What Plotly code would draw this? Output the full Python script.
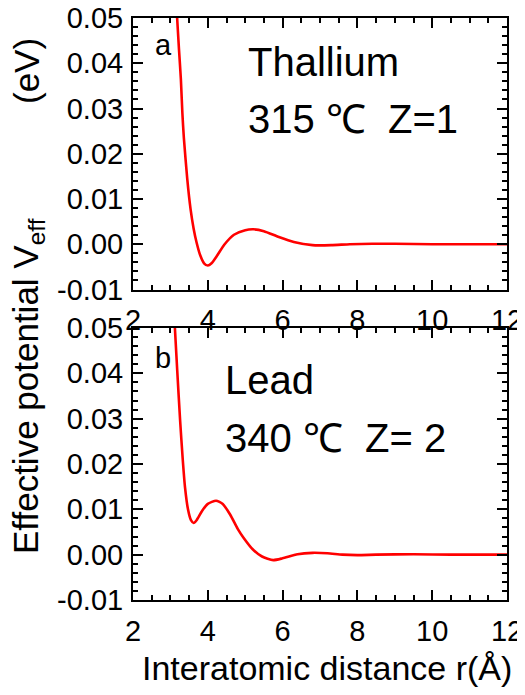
import plotly.graph_objects as go

# Thallium (panel a)
r_tl = [3.18, 3.23, 3.28, 3.32, 3.36, 3.45, 3.54, 3.62, 3.70, 3.80, 3.90, 4.00, 4.10, 4.25,
        4.45, 4.70, 5.00, 5.22, 5.50, 5.90, 6.30, 6.80, 7.30, 7.80, 8.40, 9.00, 10.0, 11.0, 12.0]
v_tl = [0.050, 0.043, 0.0365, 0.029, 0.0235, 0.0145, 0.0077, 0.0035, 0.0004, -0.0025, -0.0042,
        -0.0047, -0.0042, -0.0025, 0.0000, 0.0021, 0.0031, 0.0033, 0.0029, 0.0016, 0.0005,
        -0.0002, -0.0002, 0.0000, 0.0001, 0.0001, 0.0000, 0.0000, 0.0000]

# Lead (panel b)
r_pb = [3.12, 3.18, 3.26, 3.33, 3.39, 3.47, 3.55, 3.62, 3.70, 3.85, 4.00, 4.22, 4.40, 4.60,
        4.80, 4.95, 5.20, 5.45, 5.75, 6.00, 6.40, 6.80, 7.20, 7.60, 8.00, 8.50, 9.50, 10.5, 12.0]
v_pb = [0.050, 0.041, 0.0296, 0.021, 0.0149, 0.0100, 0.0076, 0.0070, 0.0076, 0.0097, 0.0112,
        0.0119, 0.0112, 0.0088, 0.0057, 0.0038, 0.0012, -0.0004, -0.0012, -0.0008, 0.0001,
        0.0004, 0.0003, 0.0000, -0.0001, 0.0000, 0.0001, 0.0000, 0.0000]

x_ticks = [2, 4, 6, 8, 10, 12]
y_ticks = [-0.01, 0.00, 0.01, 0.02, 0.03, 0.04, 0.05]
y_ticklabels = ["-0.01", "0.00", "0.01", "0.02", "0.03", "0.04", "0.05"]

OFF = 8  # page body margin
W, H = 525 - OFF, 695 - OFF
FONT = "Liberation Sans, Arial, sans-serif"

def px(x):
    return (x - OFF) / W

def py(y):
    return 1 - (y - OFF) / H

fig = go.Figure()
fig.add_trace(go.Scatter(x=r_tl, y=v_tl, mode="lines", xaxis="x", yaxis="y",
                         line=dict(color="#ff0000", width=2.6, shape="spline", smoothing=0.6),
                         showlegend=False))
fig.add_trace(go.Scatter(x=r_pb, y=v_pb, mode="lines", xaxis="x2", yaxis="y2",
                         line=dict(color="#ff0000", width=2.6, shape="spline", smoothing=0.6),
                         showlegend=False))

xdom = [px(133), px(507)]
common_x = dict(range=[2, 12], tickvals=x_ticks, ticks="inside", ticklen=10, tickwidth=1.5,
                tickcolor="black", showline=True, linecolor="black", linewidth=2, mirror="ticks",
                showgrid=False, zeroline=False, tickfont=dict(family=FONT, size=29, color="black"),
                minor=dict(dtick=0.5, ticks="inside", ticklen=5, tickwidth=1.5, tickcolor="black",
                           showgrid=False),
                domain=xdom, ticklabelstandoff=4, automargin=False, ticklabeloverflow="allow")
common_y = dict(range=[-0.01, 0.05], tickvals=y_ticks, ticktext=y_ticklabels, ticks="inside",
                ticklen=10, tickwidth=1.5, tickcolor="black", showline=True, linecolor="black",
                linewidth=2, mirror="ticks", showgrid=False, zeroline=False,
                tickfont=dict(family=FONT, size=29, color="black"),
                minor=dict(dtick=0.002, ticks="inside", ticklen=5, tickwidth=1.5,
                           tickcolor="black", showgrid=False),
                ticklabelstandoff=2, automargin=False, ticklabeloverflow="allow")

fig.update_layout(
    width=W, height=H, autosize=False,
    margin=dict(l=0, r=0, t=0, b=0, pad=0),
    paper_bgcolor="white", plot_bgcolor="white",
    xaxis=dict(common_x, anchor="y"),
    yaxis=dict(common_y, domain=[py(289.5), py(18)], anchor="x"),
    xaxis2=dict(common_x, anchor="y2"),
    yaxis2=dict(common_y, domain=[py(600), py(328)], anchor="x2"),
)

ann = []
def label(text, x, y_mid, size, xanchor="left"):
    ann.append(dict(text=text, x=px(x), y=py(y_mid), xref="paper", yref="paper",
                    xanchor=xanchor, yanchor="middle", showarrow=False,
                    font=dict(family=FONT, size=size, color="black")))

label("a", 153, 45, 29)
label("Thallium", 246, 62, 40)
label("315 \u2103\u00a0\u00a0Z=1", 246, 119, 40)
label("b", 153, 358, 29)
label("Lead", 223, 380, 40)
label("340 \u2103\u00a0\u00a0Z= 2", 223, 438, 40)

ann.append(dict(text="Interatomic distance r(\u00c5)", x=px(327), y=py(668), xref="paper",
                yref="paper", xanchor="center", yanchor="middle", showarrow=False,
                font=dict(family=FONT, size=34, color="black")))
ann.append(dict(text="Effective potential V<sub>eff</sub>",
                x=px(28), y=py(556), xref="paper", yref="paper", xanchor="center",
                yanchor="bottom", textangle=-90, showarrow=False,
                font=dict(family=FONT, size=35, color="black")))
ann.append(dict(text="(eV)",
                x=px(26), y=py(36), xref="paper", yref="paper", xanchor="center",
                yanchor="top", textangle=-90, showarrow=False,
                font=dict(family=FONT, size=35, color="black")))
fig.update_layout(annotations=ann)

fig.write_html("out.html")
